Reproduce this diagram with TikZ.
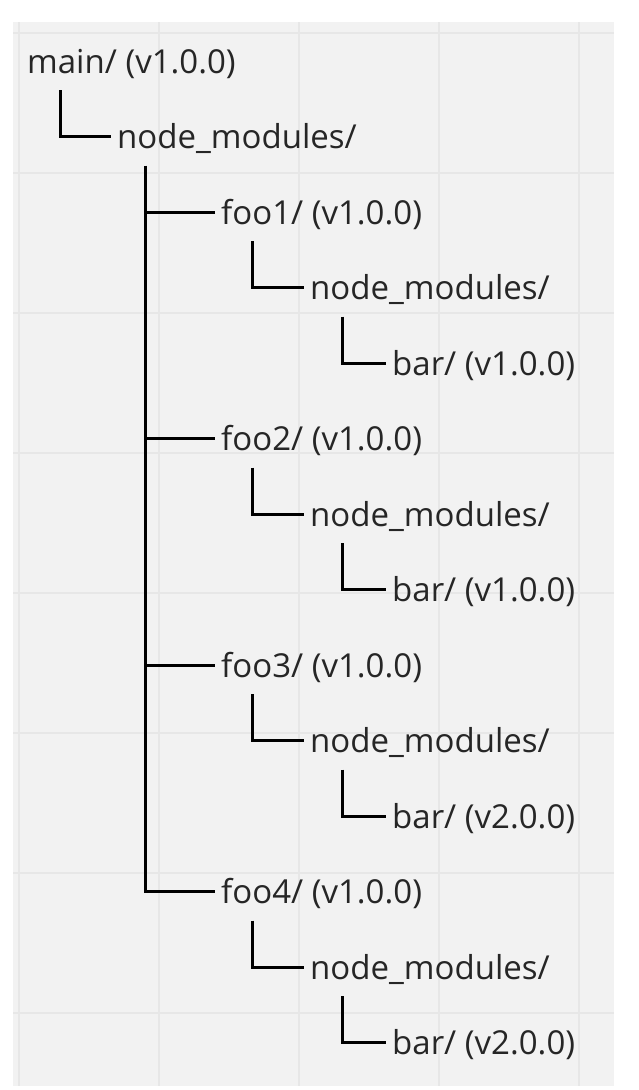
\documentclass[tikz,border=0pt]{standalone}
\usepackage{fontspec}
\setmainfont{Open Sans}
\usepackage{tikz}
\usetikzlibrary{calc}
\definecolor{paper}{HTML}{F2F2F2}
\definecolor{gridgray}{HTML}{E7E7E7}
\definecolor{ink}{HTML}{262626}

\begin{document}
\begin{tikzpicture}[
  x=1pt, y=1pt,
  item/.style={anchor=base west,inner xsep=6pt,inner ysep=0pt,text height=24pt,text depth=0pt,
    font=\fontsize{33}{40}\selectfont,text=ink},
  tree/.style={draw=black,line width=3pt},
  gridline/.style={draw=gridgray,line width=1.6pt}
]
\useasboundingbox (0,0) rectangle (638,-1090);
\fill[paper] (13,-22) rectangle (614,-1086);
\begin{scope}[shift={(19,-33)}]
  \clip (-6,11) rectangle (595,-1053);
  \draw[gridline] (-6,11) grid[step=140] (595,-1053);
\end{scope}

% top level
\node[item] (main) at (21,-73) {main/ (v1.0.0)};
\node[item] (mods) at (111,-148.5) {node\_modules/};
\draw[tree] ([xshift=39pt,yshift=-17pt]main.south west) |- (mods.west);

% dependencies of main
\node[item] (foo1)  at (215,-224)   {foo1/ (v1.0.0)};
\node[item] (mods1) at (304,-299.5) {node\_modules/};
\node[item] (bar1)  at (386,-375)   {bar/ (v1.0.0)};
\node[item] (foo2)  at (215,-450.5) {foo2/ (v1.0.0)};
\node[item] (mods2) at (304,-526)   {node\_modules/};
\node[item] (bar2)  at (386,-601.5) {bar/ (v1.0.0)};
\node[item] (foo3)  at (215,-677)   {foo3/ (v1.0.0)};
\node[item] (mods3) at (304,-752.5) {node\_modules/};
\node[item] (bar3)  at (386,-828)   {bar/ (v2.0.0)};
\node[item] (foo4)  at (215,-903.5) {foo4/ (v1.0.0)};
\node[item] (mods4) at (304,-979)   {node\_modules/};
\node[item] (bar4)  at (386,-1054.5){bar/ (v2.0.0)};

% trunk and branches
\coordinate (trunk) at ([xshift=34pt,yshift=-17pt]mods.south west);
\draw[tree] (trunk) |- (foo4.west);
\draw[tree] (trunk |- foo1.west) -- (foo1.west);
\draw[tree] (trunk |- foo2.west) -- (foo2.west);
\draw[tree] (trunk |- foo3.west) -- (foo3.west);

% nested node_modules
\draw[tree] ([xshift=37pt,yshift=-17pt]foo1.south west) |- (mods1.west);
\draw[tree] ([xshift=38pt,yshift=-17pt]mods1.south west) |- (bar1.west);
\draw[tree] ([xshift=37pt,yshift=-17pt]foo2.south west) |- (mods2.west);
\draw[tree] ([xshift=38pt,yshift=-17pt]mods2.south west) |- (bar2.west);
\draw[tree] ([xshift=37pt,yshift=-17pt]foo3.south west) |- (mods3.west);
\draw[tree] ([xshift=38pt,yshift=-17pt]mods3.south west) |- (bar3.west);
\draw[tree] ([xshift=37pt,yshift=-17pt]foo4.south west) |- (mods4.west);
\draw[tree] ([xshift=38pt,yshift=-17pt]mods4.south west) |- (bar4.west);
\end{tikzpicture}
\end{document}
